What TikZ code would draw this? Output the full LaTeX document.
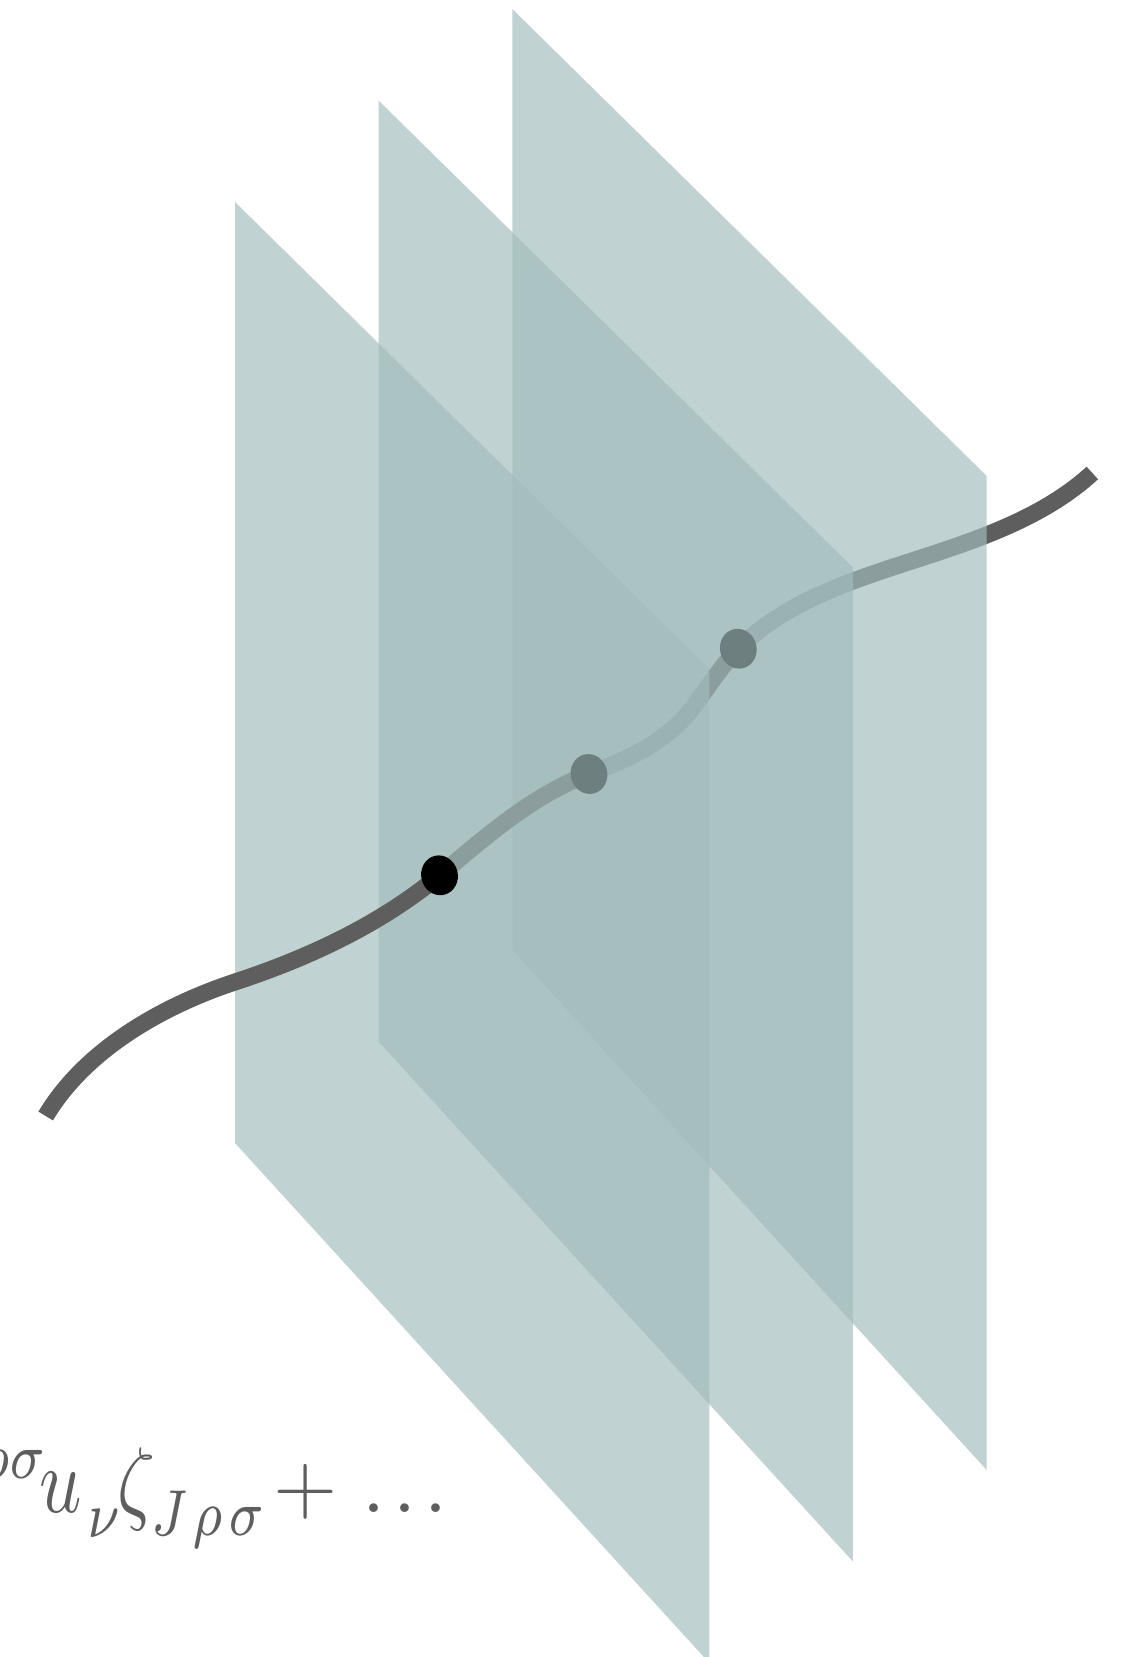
\documentclass[tikz,border=0pt]{standalone}
\usepackage{graphicx}
\definecolor{sheetcol}{RGB}{163,188,188}
\definecolor{inkgray}{RGB}{94,94,94}
\tikzset{
  sheet/.style={fill=sheetcol, fill opacity=0.68},
  worldline/.style={draw=inkgray, line width=17pt},
  hitdot/.style={fill=black},
  mathtext/.style={anchor=base west, inner sep=0pt, text=inkgray}
}
% one slice, top left corner given
\newcommand{\sheetat}[1]{\fill[sheet, shift={#1}] (0,0) -- (474.4,467) -- (474.4,1461) -- (0,941) -- cycle;}
% the whole line, cut into pieces by clipping
\newcommand{\worldpath}{(45.7,1116) .. controls (85,1050) and (162,1006) .. (235,982) .. controls (308,958) and (380.2,924.6) .. (hitA) .. controls (485.7,836.9) and (532.6,795) .. (hitB) .. controls (626.6,760) and (665.2,742.2) .. (690,711) .. controls (705.5,691.5) and (720.6,666.4) .. (hitC) .. controls (786.6,600.4) and (855.4,579.3) .. (920,558.3) .. controls (980.8,538.5) and (1044.9,516.5) .. (1092.3,473)}

\begin{document}
\begin{tikzpicture}[x=1pt, y=-1pt]
	\useasboundingbox (0,0) rectangle (1127,1657);
	\coordinate (hitA) at (439.5,875.3);
	\coordinate (hitB) at (589,774);
	\coordinate (hitC) at (738.3,648.7);
	% back part of the line, then the back slice
	\begin{scope}
		\clip (738.3,0) rectangle (1127,1657);
		\draw[worldline] \worldpath;
	\end{scope}
	\sheetat{(512.3,9)}
	\begin{scope}
		\clip (589,0) rectangle (738.3,1657);
		\draw[worldline] \worldpath;
	\end{scope}
	\fill[hitdot] (hitC) ellipse [x radius=18.3pt, y radius=20pt, rotate=14];
	% middle slice
	\sheetat{(378.5,100.5)}
	\begin{scope}
		\clip (439.5,0) rectangle (589,1657);
		\draw[worldline] \worldpath;
	\end{scope}
	\fill[hitdot] (hitB) ellipse [x radius=18.3pt, y radius=20pt, rotate=14];
	% front slice
	\sheetat{(235,202)}
	\begin{scope}
		\clip (0,0) rectangle (439.5,1657);
		\draw[worldline] \worldpath;
	\end{scope}
	\fill[hitdot] (hitA) ellipse [x radius=18.3pt, y radius=20pt, rotate=14];
	% formula, cut at the left edge
	\node[mathtext] (lhs) at (-21,1512) {\scalebox{7.4}[9.3]{${}^{\rho\sigma}\mkern-2.4mu u_{\lower1.2pt\hbox{$\scriptstyle\mkern1.7mu\nu$}}\mkern-1.7mu\zeta_{\lower1pt\hbox{$\scriptstyle J\mkern1.5mu\rho\mkern1.5mu\sigma$}}$}};
	\node[mathtext] (tail) at (273,1512) {\scalebox{8.25}{$+\mkern5.5mu.\mkern1.75mu.\mkern1.75mu.$}};
\end{tikzpicture}
\end{document}
